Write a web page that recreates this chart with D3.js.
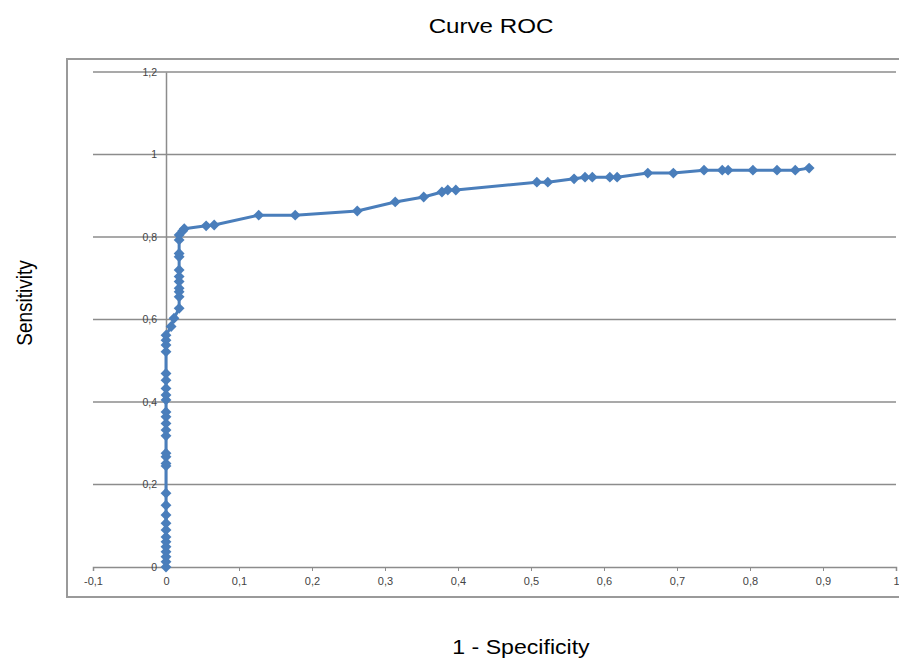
<!DOCTYPE html>
<html>
<head>
<meta charset="utf-8">
<script src="https://cdn.jsdelivr.net/npm/d3@7"></script>
<style>
  body { margin: 0; background: #fff; }
  text { font-family: "Liberation Sans", Arial, sans-serif; }
</style>
</head>
<body>
<div id="chart"></div>
<script>
// 1 - specificity (x) and sensitivity (y)
const fpr = [0, 0, 0, 0, 0, 0, 0, 0, 0, 0, 0, 0, 0, 0, 0, 0, 0, 0, 0, 0, 0, 0, 0, 0, 0, 0, 0, 0, 0, 0,
    0.007, 0.011, 0.018, 0.018, 0.018, 0.018, 0.018, 0.018, 0.018, 0.018, 0.018, 0.018, 0.018, 0.023,
    0.025, 0.055, 0.066, 0.127, 0.177, 0.262, 0.314, 0.353, 0.378, 0.386, 0.397, 0.508, 0.523, 0.559,
    0.574, 0.584, 0.608, 0.618, 0.660, 0.695, 0.737, 0.762, 0.770, 0.804, 0.837, 0.862, 0.881];
const tpr = [0, 0.013, 0.025, 0.037, 0.049, 0.061, 0.073, 0.090, 0.106, 0.126, 0.150, 0.179, 0.245,
    0.251, 0.267, 0.276, 0.318, 0.332, 0.348, 0.364, 0.376, 0.405, 0.417, 0.433, 0.453, 0.469, 0.522,
    0.538, 0.550, 0.562,
    0.583, 0.603, 0.627, 0.655, 0.667, 0.676, 0.692, 0.704, 0.720, 0.752, 0.760, 0.793, 0.805, 0.815,
    0.820, 0.827, 0.829, 0.853, 0.853, 0.863, 0.885, 0.897, 0.909, 0.914, 0.914, 0.933, 0.933, 0.941,
    0.945, 0.945, 0.945, 0.945, 0.955, 0.955, 0.962, 0.962, 0.962, 0.962, 0.962, 0.962, 0.967];
const xTicks = [-0.1, 0, 0.1, 0.2, 0.3, 0.4, 0.5, 0.6, 0.7, 0.8, 0.9, 1];
const yTicks = [0, 0.2, 0.4, 0.6, 0.8, 1, 1.2];

const width = 899, height = 658;
const points = fpr.map((d, i) => ({x: d, y: tpr[i]}));

const x = d3.scaleLinear().domain([-0.1, 1]).range([93, 896]);
const y = d3.scaleLinear().domain([0, 1.2]).range([567, 72]);
// excel style labels: comma decimal, plain hyphen
const fmt = v => String(+v.toFixed(1)).replace(".", ",");

const svg = d3.select("#chart").append("svg")
    .attr("width", width)
    .attr("height", height);

// outer frame of the plot area
svg.append("rect")
    .attr("x", 67).attr("y", 59)
    .attr("width", 860).attr("height", 538)
    .attr("fill", "none")
    .attr("stroke", "#9a9a9a")
    .attr("stroke-width", 2);

// horizontal grid
svg.append("g")
    .selectAll("line")
    .data(yTicks.filter(d => d > 0))
    .join("line")
    .attr("x1", x(-0.1)).attr("x2", x(1))
    .attr("y1", d => y(d)).attr("y2", d => y(d))
    .attr("stroke", "#8c8c8c")
    .attr("stroke-width", 1.5);

// x axis
const xAxis = svg.append("g")
    .attr("transform", `translate(0,${y(0)})`)
    .call(d3.axisBottom(x).tickValues(xTicks).tickSize(4).tickPadding(6).tickFormat(fmt));
xAxis.select(".domain").attr("stroke", "#8c8c8c").attr("stroke-width", 1.5);
xAxis.selectAll(".tick line").attr("stroke", "#8c8c8c");
xAxis.selectAll("text").attr("fill", "#444").attr("font-size", 11);

// y axis drawn at x = 0
const yAxis = svg.append("g")
    .attr("transform", `translate(${x(0)},0)`)
    .call(d3.axisLeft(y).tickValues(yTicks).tickSize(0).tickPadding(9).tickFormat(fmt));
yAxis.select(".domain").attr("stroke", "#8c8c8c").attr("stroke-width", 1.5);
yAxis.selectAll("text").attr("fill", "#444").attr("font-size", 10.5);

// curve
svg.append("path")
    .datum(points)
    .attr("fill", "none")
    .attr("stroke", "#4a7ebb")
    .attr("stroke-width", 3)
    .attr("stroke-linejoin", "round")
    .attr("d", d3.line().x(d => x(d.x)).y(d => y(d.y)));

svg.append("g")
    .selectAll("path")
    .data(points)
    .join("path")
    .attr("transform", d => `translate(${x(d.x)},${y(d.y)})`)
    .attr("d", d3.symbol(d3.symbolDiamond2, 75))
    .attr("fill", "#4a7ebb");

// titles (the source picture is a bit stretched sideways)
svg.append("text")
    .attr("transform", "translate(491,33) scale(1.15,1)")
    .attr("text-anchor", "middle")
    .attr("font-size", 21)
    .text("Curve ROC");

svg.append("text")
    .attr("transform", "translate(32,303) rotate(-90) scale(1,1.15)")
    .attr("text-anchor", "middle")
    .attr("font-size", 19)
    .text("Sensitivity");

svg.append("text")
    .attr("transform", "translate(521,654) scale(1.1,1)")
    .attr("text-anchor", "middle")
    .attr("font-size", 21)
    .text("1 - Specificity");
</script>
</body>
</html>
